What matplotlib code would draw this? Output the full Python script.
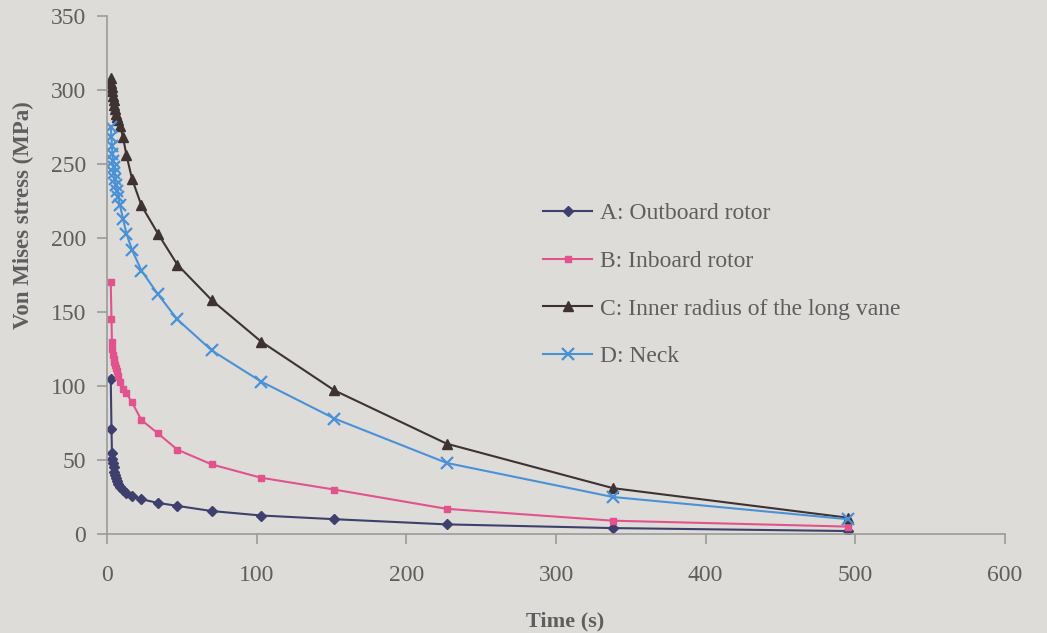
import matplotlib
matplotlib.use("Agg")
import matplotlib.pyplot as plt

plt.rcParams['font.family'] = ['Liberation Serif', 'DejaVu Serif']

time_s = [2.5, 3.0, 3.3, 3.6, 4.0, 4.4, 4.8, 5.3, 5.9, 6.6, 7.5, 8.7,
          10.7, 13, 16.7, 23, 34, 47, 70, 103, 152, 227, 338, 495]

outboard_rotor = [105, 71, 55, 51, 48, 45, 42, 40, 38, 36, 34, 32,
                  30, 28, 26, 23.5, 21, 19, 15.5, 12.5, 10, 6.5, 4, 2]
inboard_rotor = [170, 145, 130, 125, 121, 118, 116, 114, 112, 110, 107, 103,
                 98, 95, 89, 77, 68, 57, 47, 38, 30, 17, 9, 5]
inner_radius = [308, 305, 302, 299, 296, 293, 290, 287, 284, 282, 280, 276,
                268, 256, 240, 222, 203, 182, 158, 130, 97, 61, 31, 11]
neck = [275, 268, 262, 257, 252, 248, 244, 240, 236, 232, 228, 222,
        213, 203, 192, 178, 162, 145, 124, 103, 78, 48, 25, 10]

labels = ["A: Outboard rotor", "B: Inboard rotor",
          "C: Inner radius of the long vane", "D: Neck"]

x_ticks = [0, 100, 200, 300, 400, 500, 600]
y_ticks = [0, 50, 100, 150, 200, 250, 300, 350]

bg = "#dddcd8"
txt = "#5e5e5e"

fig = plt.figure(figsize=(10.47, 6.33), dpi=100, facecolor=bg)
ax = fig.add_axes([107/1047, 1-534/633, (1005-107)/1047, (534-16)/633])
ax.set_facecolor(bg)

ax.plot(time_s, outboard_rotor, color="#3f3f6e", marker="D", ms=5, lw=1.5, label=labels[0])
ax.plot(time_s, inboard_rotor, color="#e2528c", marker="s", ms=5, lw=1.5, label=labels[1])
ax.plot(time_s, inner_radius, color="#3e3232", marker="^", ms=7, lw=1.5, label=labels[2])
ax.plot(time_s, neck, color="#4a91d8", marker="x", ms=8, mew=1.6, lw=1.5, label=labels[3])

ax.set_xlim(0, 600)
ax.set_ylim(0, 350)
ax.set_xticks(x_ticks)
ax.set_yticks(y_ticks)
for s in ["top", "right"]:
    ax.spines[s].set_visible(False)
for s in ["left", "bottom"]:
    ax.spines[s].set_color("#9a9a9a")
    ax.spines[s].set_linewidth(1.2)
ax.tick_params(colors="#9a9a9a", labelcolor=txt, labelsize=17, length=7, width=1.2)
ax.tick_params(axis="x", pad=15)
ax.tick_params(axis="y", pad=8)

ax.set_xlabel("Time (s)", fontsize=16, fontweight="bold", color=txt)
ax.set_ylabel("Von Mises stress (MPa)", fontsize=16.5, fontweight="bold", color=txt)
ax.xaxis.set_label_coords((565-107)/898, (534-621)/518)
ax.yaxis.set_label_coords((23-107)/898, (534-215)/518)
ax.xaxis.label.set_va("center")
ax.yaxis.label.set_va("center")

leg = ax.legend(loc="center left", bbox_to_anchor=(543/1047, 1-285/633),
                bbox_transform=fig.transFigure, frameon=False, fontsize=17,
                handlelength=2.08, handletextpad=0.34, labelspacing=1.11,
                borderpad=0, borderaxespad=0)
for t in leg.get_texts():
    t.set_color(txt)

fig.savefig("out.png", dpi=100, facecolor=bg)
